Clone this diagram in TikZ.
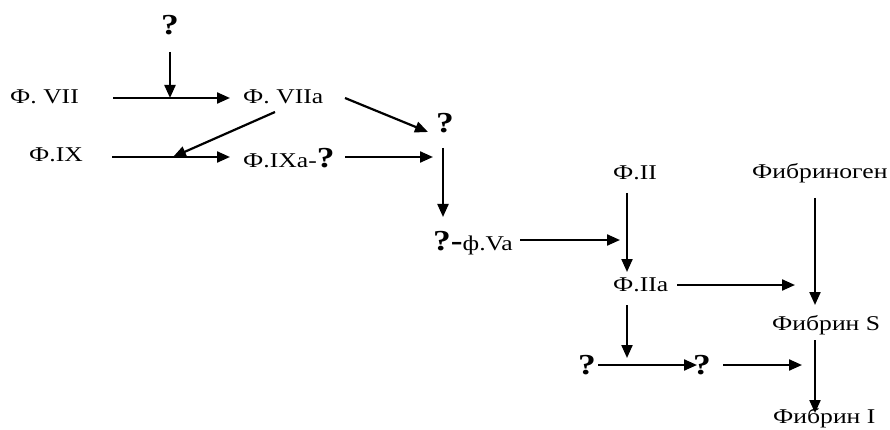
\documentclass[tikz,border=0pt]{standalone}
\usepackage{fontspec}
\usepackage{graphicx}
\setmainfont{Liberation Serif}
\usetikzlibrary{arrows.meta}
\newcommand{\qmfont}{\fontsize{29}{30}\selectfont\bfseries}
\newcommand{\wdtxt}[1]{\scalebox{1.22}[1]{#1}}
\begin{document}
\begin{tikzpicture}[x=1pt,y=-1pt,
  lbl/.style={inner sep=0pt,anchor=west,font=\fontsize{21}{24}\selectfont},
  qm/.style={inner sep=0pt,font=\qmfont},
  arr/.style={line width=2.2pt,-{Triangle[length=13pt,width=11pt]}}]
\useasboundingbox (0,0) rectangle (890,430);
% nodes
\node[qm] (q1) at (170,25) {\wdtxt{?}};
\node[lbl] (f7) at (10,97) {\wdtxt{Ф. VII}};
\node[lbl] (f7a) at (243,97) {\wdtxt{Ф. VIIa}};
\node[lbl] (f9) at (29,155) {\wdtxt{Ф.IX}};
\node[lbl] (f9a) at (243,158) {\wdtxt{Ф.IXa-{\qmfont ?}}};
\node[qm] (q2) at (445,123) {\wdtxt{?}};
\node[lbl] (q3) at (433,243) {\wdtxt{{\qmfont ?-}ф.Va}};
\node[lbl] (f2) at (613,173) {\wdtxt{Ф.II}};
\node[lbl] (fg) at (752,173) {\wdtxt{Фибриноген}};
\node[lbl] (f2a) at (613,285) {\wdtxt{Ф.IIa}};
\node[lbl] (fs) at (772,325) {\wdtxt{Фибрин S}};
\node[qm] (q4) at (587,365) {\wdtxt{?}};
\node[qm] (q5) at (702,365) {\wdtxt{?}};
\node[lbl] (fi) at (773,418) {\wdtxt{Фибрин I}};
% coordinates
\coordinate (a1) at (170,52);  \coordinate (j1) at (170,98);
\coordinate (a2) at (113,98);  \coordinate (b2) at (230,98);
\coordinate (a3) at (275,112); \coordinate (j3) at (173,157);
\coordinate (a4) at (112,157); \coordinate (b4) at (230,157);
\coordinate (a5) at (345,98);  \coordinate (b5) at (428,132);
\coordinate (a6) at (345,157); \coordinate (b6) at (433,157);
\coordinate (a7) at (443,148); \coordinate (b7) at (443,217);
\coordinate (a8) at (520,240); \coordinate (b8) at (620,240);
\coordinate (a9) at (627,193); \coordinate (b9) at (627,272);
\coordinate (a10) at (677,285); \coordinate (b10) at (795,285);
\coordinate (a11) at (815,198); \coordinate (b11) at (815,305);
\coordinate (a12) at (627,305); \coordinate (b12) at (627,358);
\coordinate (a13) at (598,365); \coordinate (b13) at (697,365);
\coordinate (a14) at (723,365); \coordinate (b14) at (802,365);
\coordinate (a15) at (815,340); \coordinate (b15) at (815,413);
% connectors
\draw[arr] (a1) -- (j1);
\draw[arr] (a2) -- (b2);
\draw[arr] (a3) -- (j3);
\draw[arr] (a4) -- (b4);
\draw[arr] (a5) -- (b5);
\draw[arr] (a6) -- (b6);
\draw[arr] (a7) -- (b7);
\draw[arr] (a8) -- (b8);
\draw[arr] (a9) -- (b9);
\draw[arr] (a10) -- (b10);
\draw[arr] (a11) -- (b11);
\draw[arr] (a12) -- (b12);
\draw[arr] (a13) -- (b13);
\draw[arr] (a14) -- (b14);
\draw[arr] (a15) -- (b15);
\end{tikzpicture}
\end{document}
